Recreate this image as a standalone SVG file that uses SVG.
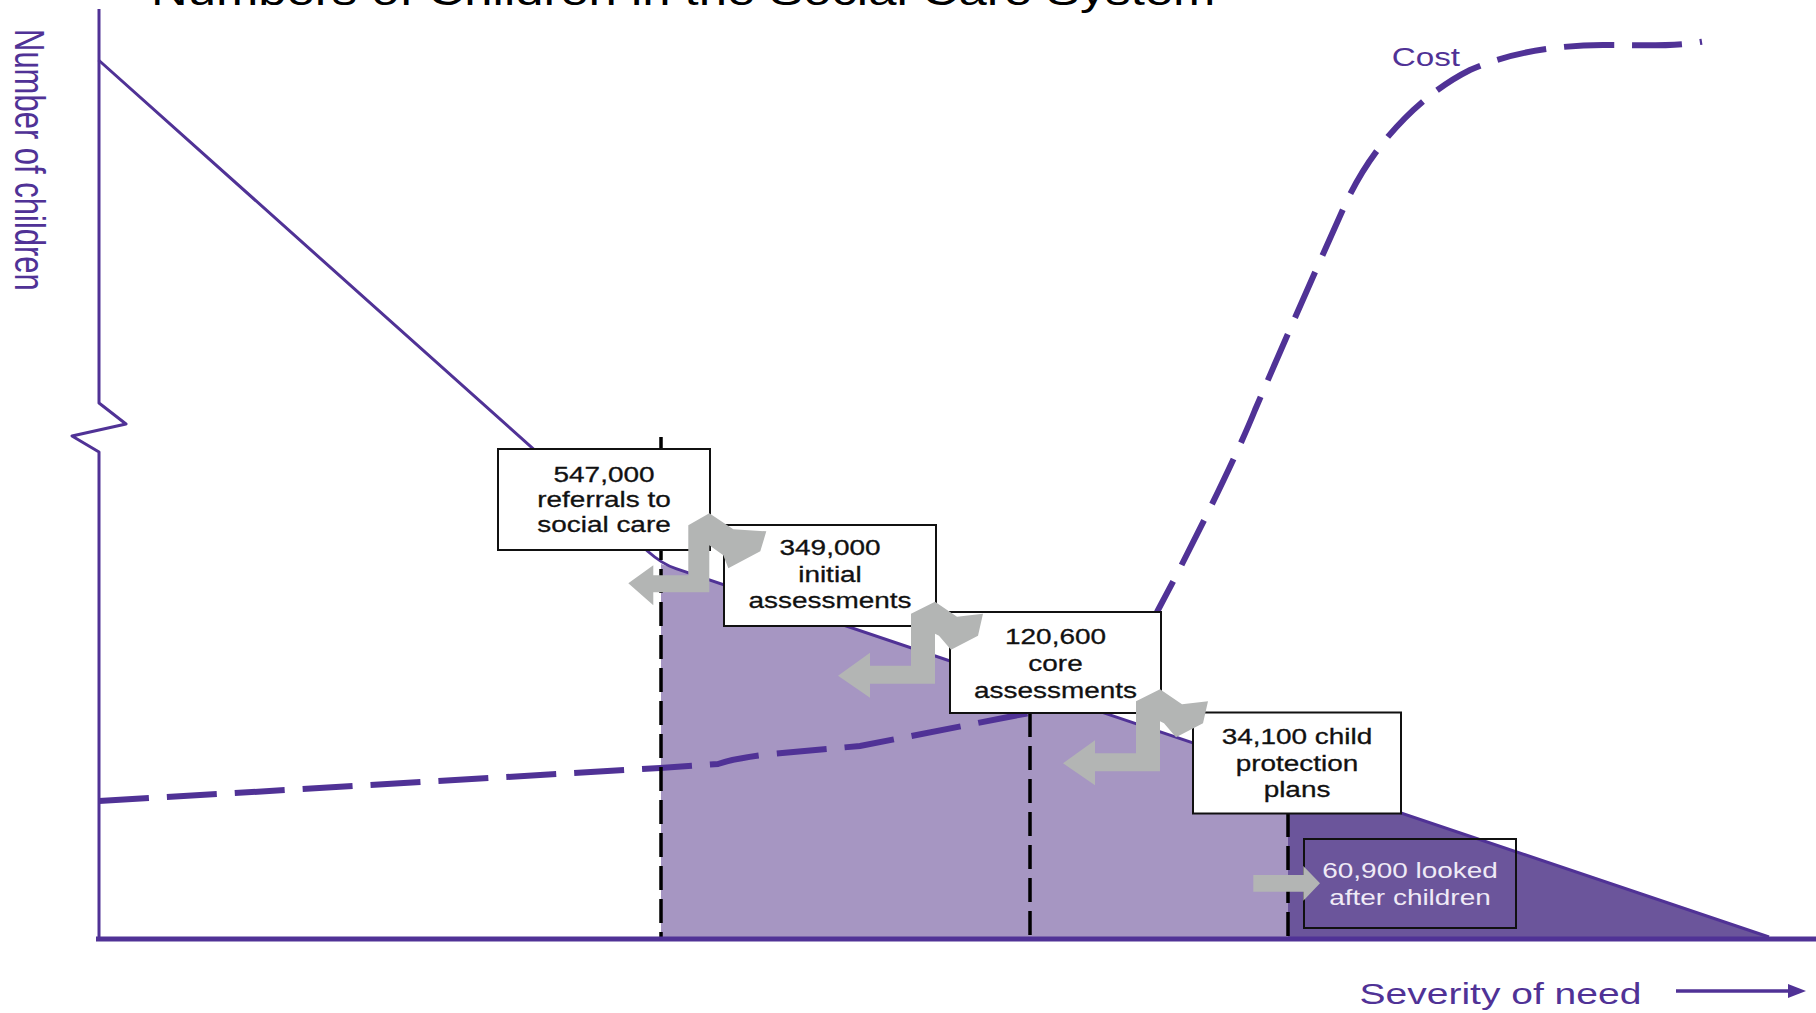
<svg xmlns="http://www.w3.org/2000/svg" width="1816" height="1013" viewBox="0 0 1816 1013">
<defs>
<style>
.purple{fill:none;stroke:#503296;stroke-width:3;stroke-linejoin:round}
.cost{fill:none;stroke:#503296;stroke-width:6;stroke-dasharray:50 18}
.vdash{fill:none;stroke:#000;stroke-width:3.5;stroke-dasharray:24 9}
.box{fill:#fff;stroke:#111;stroke-width:2}
.box5{fill:none;stroke:#111;stroke-width:2}
.btxt{font-family:"Liberation Sans",Arial,sans-serif;font-size:22px;fill:#111;text-anchor:middle;stroke:#111;stroke-width:0.3}
.btxt5{font-family:"Liberation Sans",Arial,sans-serif;font-size:22px;fill:#EFEAF6;text-anchor:middle}
.lbl{font-family:"Liberation Sans",Arial,sans-serif;fill:#503296}
.arrow{fill:#B3B5B4}
</style>
<polygon id="bend" points="0,0 22,15 48,12 43,34 16,48 4,34 0,32 0,82 -65,82 -65,96 -97,74 -65,51 -65,64 -24,64 -24,12"/>
</defs>
<rect width="1816" height="1013" fill="#fff"/>

<g id="title">
<text transform="translate(151 5) scale(1.27 1)" font-family="Liberation Sans, Arial, sans-serif" font-size="40" fill="#000">Numbers of Children in the Social Care System</text>
</g>

<g id="chart">
<polygon id="light-area" points="661,564 1288,775.3 1288,939 661,939" fill="#A696C2"/>
<polygon id="dark-area" points="1288,775.3 1769,937 1288,937" fill="#6B559B"/>
<path id="children-curve" class="purple" d="M98.5,60 L648,551.5 Q662,564 676,568.7 L1769,937"/>
<path id="cost-curve" class="cost" d="M99,801 L660,768 L718,764 Q735,758 770,754 L860,746 L1024,714 C1080,702 1130,660 1157,612 C1185,560 1235,460 1255,410 C1285,340 1318,265 1345,205 C1372,145 1420,95 1470,70 C1510,52 1560,45 1603,45 C1640,45 1670,47 1702,41.7"/>
<line class="vdash" x1="661" y1="437" x2="661" y2="939"/>
<line class="vdash" x1="1030" y1="713" x2="1030" y2="939"/>
<line class="vdash" x1="1288" y1="813" x2="1288" y2="939"/>
<path id="y-axis" class="purple" d="M99,9 L99,403 L126,424 L72,436 L99,452 L99,939"/>
<line id="x-axis" x1="96" y1="939" x2="1816" y2="939" stroke="#503296" stroke-width="5"/>
</g>

<g id="labels">
<text class="lbl" font-size="31" transform="translate(15 29) scale(1.35 1) rotate(90)">Number of children</text>
<text class="lbl" font-size="25" transform="translate(1391.7 66) scale(1.33 1)">Cost</text>
<text class="lbl" font-size="30" transform="translate(1359.6 1004) scale(1.3 1)">Severity of need</text>
<line x1="1676" y1="991" x2="1792" y2="991" stroke="#503296" stroke-width="3.5"/>
<polygon points="1788,984 1806,991 1788,998" fill="#503296"/>
</g>

<g id="box1">
<rect class="box" x="498" y="449" width="212" height="101"/>
<g transform="translate(604 0) scale(1.27 1)">
<text class="btxt" x="0" y="481.7">547,000</text>
<text class="btxt" x="0" y="507.3">referrals to</text>
<text class="btxt" x="0" y="531.7">social care</text>
</g>
</g>

<g id="box2">
<rect class="box" x="724" y="525" width="212" height="101"/>
<g transform="translate(830 0) scale(1.27 1)">
<text class="btxt" x="0" y="555">349,000</text>
<text class="btxt" x="0" y="581.7">initial</text>
<text class="btxt" x="0" y="608.3">assessments</text>
</g>
</g>

<g id="box3">
<rect class="box" x="950" y="612" width="211" height="101"/>
<g transform="translate(1055.5 0) scale(1.27 1)">
<text class="btxt" x="0" y="644.3">120,600</text>
<text class="btxt" x="0" y="671">core</text>
<text class="btxt" x="0" y="697.7">assessments</text>
</g>
</g>

<g id="box4">
<rect class="box" x="1193" y="712.5" width="208" height="101"/>
<g transform="translate(1297 0) scale(1.27 1)">
<text class="btxt" x="0" y="744">34,100 child</text>
<text class="btxt" x="0" y="771.5">protection</text>
<text class="btxt" x="0" y="796.7">plans</text>
</g>
</g>

<g id="box5">
<rect class="box5" x="1304" y="839" width="212" height="89"/>
<g transform="translate(1410 0) scale(1.27 1)">
<text class="btxt5" x="0" y="878.3">60,900 looked</text>
<text class="btxt5" x="0" y="905">after children</text>
</g>
</g>

<g id="connectors">
<polygon class="arrow" points="709.3,513.3 733.3,529.3 766.3,531.3 760.3,551.3 728.3,568.3 723.3,555.3 709.3,545.3 709.3,592.3 653.3,592.3 653.3,605.3 628.3,583.3 653.3,565.3 653.3,575.3 688.3,575.3 688.3,525.3"/>
<use href="#bend" class="arrow" transform="translate(935 601.7)"/>
<use href="#bend" class="arrow" transform="translate(1160 689.3)"/>
<polygon class="arrow" points="1253.3,875 1303.3,875 1303.3,866 1320,883.3 1303.3,900.7 1303.3,891.7 1253.3,891.7"/>
</g>
</svg>
